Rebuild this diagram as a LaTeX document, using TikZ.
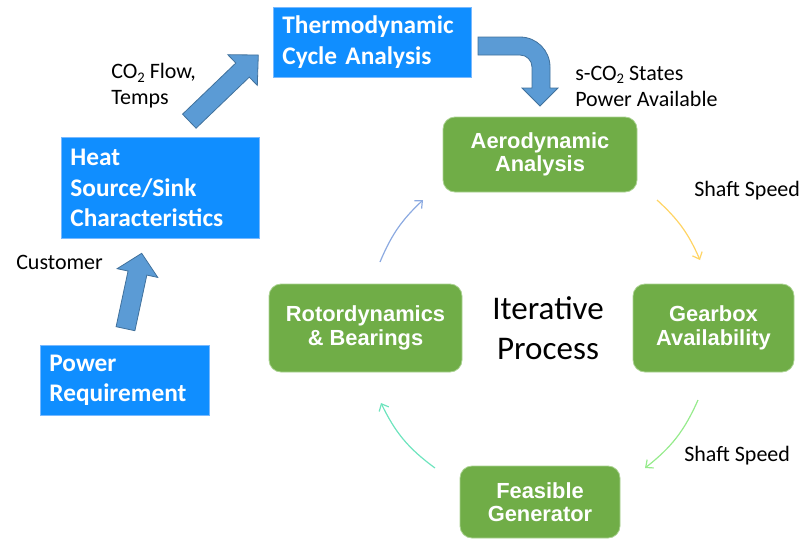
\documentclass[tikz,border=0pt]{standalone}
\usepackage{fontspec}
\setmainfont{Carlito}
\newfontfamily\arialfont{Liberation Sans}
\usetikzlibrary{arrows.meta}
\definecolor{boxblue}{RGB}{16,142,255}
\definecolor{boxblueedge}{RGB}{120,185,255}
\definecolor{arrowblue}{RGB}{91,155,213}
\definecolor{arrowedge}{RGB}{65,113,156}
\definecolor{boxgreen}{RGB}{112,173,71}
\definecolor{boxgreenedge}{RGB}{170,210,145}
\definecolor{cycyellow}{RGB}{255,212,100}
\definecolor{cycgreen}{RGB}{150,235,140}
\definecolor{cycteal}{RGB}{110,228,190}
\definecolor{cycblue}{RGB}{140,170,225}
\newcommand\subtwo{\raisebox{-0.35ex}{\fontsize{11pt}{11pt}\selectfont 2}}
\tikzset{
  bluebox/.style={fill=boxblue, draw=boxblueedge, line width=0.6pt, text=white,
    font=\bfseries\fontsize{19pt}{23pt}\selectfont, align=left,
    inner xsep=6.75pt, inner ysep=0pt, minimum height=52.5pt, anchor=north west},
  greenbox/.style={fill=boxgreen, draw=boxgreenedge, line width=0.6pt, rounded corners=9pt,
    text=white, font=\arialfont\bfseries\fontsize{16.4pt}{17.6pt}\selectfont,
    align=center, inner sep=0pt},
  lbl/.style={font=\fontsize{16.5pt}{19.5pt}\selectfont, align=left, inner sep=0pt, anchor=west},
  blockarrow/.style={fill=arrowblue, draw=arrowedge, line width=0.6pt, line join=miter},
  cycarrow/.style={line width=0.9pt, -{Straight Barb[length=4.5pt,width=8pt]}}
}
\begin{document}
\begin{tikzpicture}[x=0.75pt,y=-0.75pt]
\useasboundingbox (0,0) rectangle (806,539);

% blue boxes
\node[bluebox, text width=135pt] (thermo) at (273,7) {Thermodynamic\\Cycle Analysis};
\node[bluebox, text width=135pt, minimum height=75.75pt] (heat) at (61,137) {Heat\\Source/Sink\\Characteristics};
\node[bluebox, text width=113.25pt] (power) at (40,345) {Power\\Requirement};

% green boxes
\node[greenbox, minimum width=145.5pt, minimum height=56.25pt] (aero) at (540,154.5) {Aerodynamic\\Analysis};
\node[greenbox, minimum width=120.75pt, minimum height=66pt] (gear) at (713.5,328) {Gearbox\\Availability};
\node[greenbox, minimum width=120pt, minimum height=54pt] (feas) at (540,502) {Feasible\\Generator};
\node[greenbox, minimum width=144.75pt, minimum height=66pt] (rotor) at (365.5,328) {Rotordynamics\\\& Bearings};

% center text
\node[font=\fontsize{24.8pt}{30pt}\selectfont, align=center, inner sep=0pt] (iter) at (548,328) {Iterative\\Process};

% labels
\node[lbl] (lco2) at (111,85.5) {CO\subtwo{} Flow,\\Temps};
\node[lbl] (lcust) at (16,262) {Customer};
\node[lbl] (lstates) at (575,86) {s-CO\subtwo{} States\\Power Available};
\node[lbl] (lshaft1) at (694,191) {Shaft Speed};
\node[lbl] (lshaft2) at (684,456) {Shaft Speed};

% block arrows
\filldraw[blockarrow] (116.11,326.68) -- (134.89,330.72) -- (146.84,275.08) -- (157.79,277.43)
  -- (141.7,253.3) -- (117.11,268.69) -- (128.06,271.04) -- cycle;
\filldraw[blockarrow] (182.55,114.16) -- (196.05,128.24) -- (249.32,77.13) -- (257.32,85.46)
  -- (258.3,55) -- (227.82,54.72) -- (235.82,63.05) -- cycle;
\filldraw[blockarrow] (478,37) -- (520,37) .. controls (536.6,37) and (550,50.4) .. (550,67)
  -- (550,88) -- (558,88) -- (540,106) -- (522,88) -- (532,88) -- (532,67)
  .. controls (532,60.4) and (526.6,55) .. (520,55) -- (478,55) -- cycle;

% cycle connectors
\coordinate (c1s) at (657,200);
\coordinate (c1e) at (700,260);
\coordinate (c2s) at (698,400);
\coordinate (c2e) at (645,468);
\coordinate (c3s) at (435,468);
\coordinate (c3e) at (381,403);
\coordinate (c4s) at (380,262);
\coordinate (c4e) at (423,200);
\draw[cycarrow, cycyellow] (c1s) to[bend left=12] (c1e);
\draw[cycarrow, cycgreen] (c2s) to[bend left=14] (c2e);
\draw[cycarrow, cycteal] (c3s) to[bend left=14] (c3e);
\draw[cycarrow, cycblue] (c4s) to[bend left=12] (c4e);
\end{tikzpicture}
\end{document}
